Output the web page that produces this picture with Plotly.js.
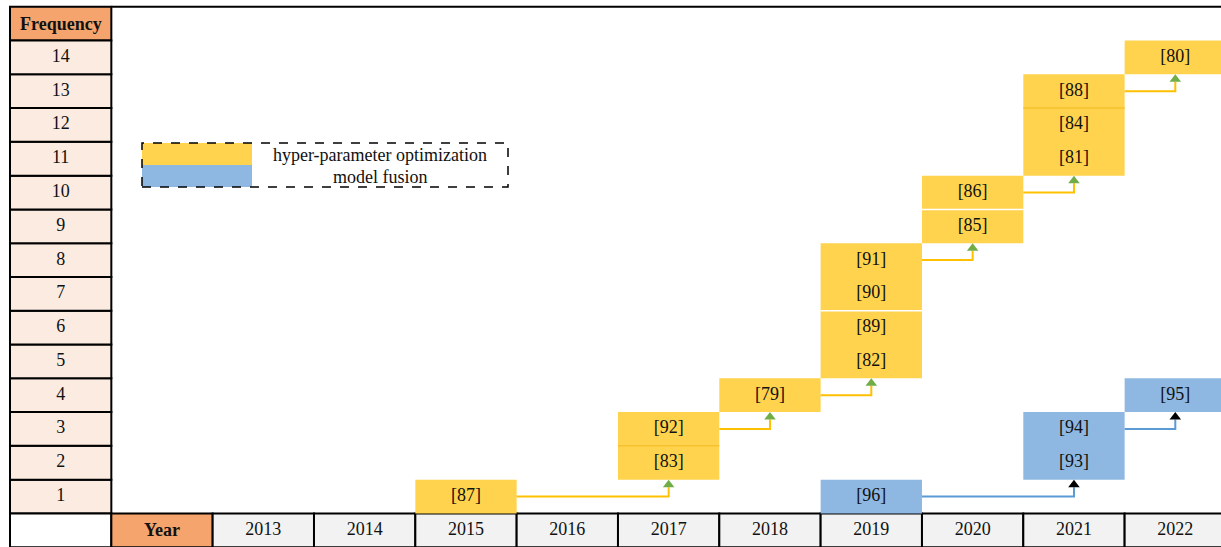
<!DOCTYPE html>
<html>
<head>
<meta charset="utf-8">
<script src="https://cdn.plot.ly/plotly-3.0.1.min.js"></script>
<style>html,body{margin:0;padding:0;background:#fff;}#chart{width:1221px;height:547px;}</style>
</head>
<body>
<div id="chart"></div>
<script>
// ---------- data ----------
const years = ['2013','2014','2015','2016','2017','2018','2019','2020','2021','2022'];
const frequencies = [1,2,3,4,5,6,7,8,9,10,11,12,13,14];

const hpoYear = ['2015','2017','2017','2018','2019','2019','2019','2019','2020','2020','2021','2021','2021','2022'];
const hpoFreq = [1,2,3,4,5,6,7,8,9,10,11,12,13,14];
const hpoRef  = ['[87]','[83]','[92]','[79]','[82]','[89]','[90]','[91]','[85]','[86]','[81]','[84]','[88]','[80]'];

const mfYear = ['2019','2021','2021','2022'];
const mfFreq = [1,2,3,4];
const mfRef  = ['[96]','[93]','[94]','[95]'];

const seriesNames = ['hyper-parameter optimization','model fusion'];

// ---------- style ----------
const YELLOW = '#FFD34E', YELLOW_LINE = '#FFC000', YELLOW_SEP = '#F9C12E', GREEN = '#70AD47';
const BLUE = '#8EB8E2', BLUE_LINE = '#5B9BD5';
const ORANGE = '#F4A46C', PEACH = '#FBEBE1', GREY = '#F2F2F2';
const FONT = '"Liberation Serif", "Times New Roman", serif';
const FS = 18;
// separator drawn on top edge of these cells (by reference label): colour
const hpoSeparators = {'[92]': YELLOW_SEP, '[90]': '#FFFFFF', '[86]': '#FFFFFF', '[88]': YELLOW_SEP};

const W = 1221, H = 547;
const xr = [-0.0987, 11.951], yr = [-0.494, 15.70];
const pxX = W / (xr[1] - xr[0]), pxY = H / (yr[1] - yr[0]);
const col = y => 2 + years.indexOf(y);

const shapes = [], traces = [];

// ---------- table frame ----------
shapes.push({type:'rect', xref:'x', yref:'y', x0:0, x1:1, y0:14.5, y1:15.5, fillcolor:ORANGE, line:{color:'#000', width:2}, layer:'below'});
frequencies.forEach(f => shapes.push({type:'rect', xref:'x', yref:'y', x0:0, x1:1, y0:f-0.5, y1:f+0.5, fillcolor:PEACH, line:{color:'#000', width:2}, layer:'below'}));
shapes.push({type:'rect', xref:'x', yref:'y', x0:0, x1:1, y0:-0.5, y1:0.5, fillcolor:'#fff', line:{color:'#000', width:2}, layer:'below'});
shapes.push({type:'rect', xref:'x', yref:'y', x0:1, x1:2, y0:-0.5, y1:0.5, fillcolor:ORANGE, line:{color:'#000', width:2}, layer:'below'});
years.forEach(y => shapes.push({type:'rect', xref:'x', yref:'y', x0:col(y), x1:col(y)+1, y0:-0.5, y1:0.5, fillcolor:GREY, line:{color:'#000', width:2}, layer:'below'}));
shapes.push({type:'line', xref:'x', yref:'y', x0:1, x1:12.5, y0:15.5, y1:15.5, line:{color:'#000', width:2}, layer:'below'});

// ---------- group cells by year ----------
function groupByYear(yrs, fr) {
  const groups = [];
  yrs.forEach((y, i) => {
    let g = groups.find(g => g.year === y);
    if (!g) { g = {year:y, min:fr[i], max:fr[i]}; groups.push(g); }
    g.min = Math.min(g.min, fr[i]); g.max = Math.max(g.max, fr[i]);
  });
  return groups;
}

// ---------- boxes ----------
function addBoxes(yrs, fr, refs, fill) {
  groupByYear(yrs, fr).forEach(g => {
    const c = col(g.year);
    shapes.push({type:'rect', xref:'x', yref:'y', x0:c, x1:c+1, y0:g.min-0.5, y1:g.max+0.5, fillcolor:fill, line:{width:0}, layer:'below'});
  });
  traces.push({type:'scatter', mode:'text', x:yrs.map(y => col(y)+0.5), y:fr, text:refs,
    textfont:{family:FONT, size:FS, color:'#111'}, hoverinfo:'skip', showlegend:false});
}
addBoxes(hpoYear, hpoFreq, hpoRef, YELLOW);
addBoxes(mfYear, mfFreq, mfRef, BLUE);
hpoRef.forEach((r, i) => {
  if (hpoSeparators[r]) {
    const c = col(hpoYear[i]);
    shapes.push({type:'line', xref:'x', yref:'y', x0:c, x1:c+1, y0:hpoFreq[i]-0.5, y1:hpoFreq[i]-0.5,
      line:{color:hpoSeparators[r], width: hpoSeparators[r]==='#FFFFFF'?1.5:1.5}, layer:'below'});
  }
});

// ---------- arrows between consecutive year groups ----------
function addArrows(yrs, fr, lineColor, headColor) {
  const groups = groupByYear(yrs, fr);
  const headSize = 10;
  const headX = [], headY = [];
  for (let k = 0; k < groups.length - 1; k++) {
    const a = groups[k], b = groups[k+1];
    const x0 = col(a.year) + 1, y0 = a.max;
    const x1 = col(b.year) + 0.5, yTip = b.min - 0.5;
    const yBase = yTip - (headSize*0.75)/pxY;
    traces.push({type:'scatter', mode:'lines', x:[x0, x1, x1], y:[y0, y0, yBase],
      line:{color:lineColor, width:2}, hoverinfo:'skip', showlegend:false});
    headX.push(x1); headY.push(yTip - (headSize/2)/pxY);
  }
  traces.push({type:'scatter', mode:'markers', x:headX, y:headY,
    marker:{symbol:'triangle-up', size:headSize, color:headColor, line:{width:0}}, hoverinfo:'skip', showlegend:false});
}
addArrows(hpoYear, hpoFreq, YELLOW_LINE, GREEN);
addArrows(mfYear, mfFreq, BLUE_LINE, '#000');

// ---------- axis-like labels ----------
traces.push({type:'scatter', mode:'text', x:frequencies.map(() => 0.5), y:frequencies, text:frequencies.map(String),
  textfont:{family:FONT, size:FS, color:'#111'}, hoverinfo:'skip', showlegend:false});
traces.push({type:'scatter', mode:'text', x:years.map(y => col(y)+0.5), y:years.map(() => 0), text:years,
  textfont:{family:FONT, size:FS, color:'#111'}, hoverinfo:'skip', showlegend:false});

const annotations = [
  {xref:'x', yref:'y', x:0.5, y:15, text:'<b>Frequency</b>', showarrow:false, xanchor:'center', yanchor:'middle', font:{family:FONT, size:FS, color:'#111'}},
  {xref:'x', yref:'y', x:1.5, y:0, text:'<b>Year</b>', showarrow:false, xanchor:'center', yanchor:'middle', font:{family:FONT, size:FS, color:'#111'}}
];

// ---------- legend box ----------
const px = v => v / W, py = v => 1 - v / H;
shapes.push({type:'rect', xref:'paper', yref:'paper', x0:px(142), x1:px(252), y0:py(165), y1:py(143), fillcolor:YELLOW, line:{width:0}});
shapes.push({type:'rect', xref:'paper', yref:'paper', x0:px(142), x1:px(252), y0:py(187), y1:py(165), fillcolor:BLUE, line:{width:0}});
shapes.push({type:'rect', xref:'paper', yref:'paper', x0:px(142), x1:px(508), y0:py(187), y1:py(143), fillcolor:'rgba(0,0,0,0)', line:{color:'#000', width:1.5, dash:'dash'}});
annotations.push({xref:'paper', yref:'paper', x:px(380), y:py(155), xanchor:'center', yanchor:'middle', text:seriesNames[0], showarrow:false, font:{family:FONT, size:FS, color:'#111'}});
annotations.push({xref:'paper', yref:'paper', x:px(380), y:py(177), xanchor:'center', yanchor:'middle', text:seriesNames[1], showarrow:false, font:{family:FONT, size:FS, color:'#111'}});

const layout = {
  width:W, height:H, margin:{l:0, r:0, t:0, b:0}, paper_bgcolor:'#fff', plot_bgcolor:'#fff',
  xaxis:{range:xr, visible:false, fixedrange:true},
  yaxis:{range:yr, visible:false, fixedrange:true},
  shapes:shapes, annotations:annotations, showlegend:false
};
Plotly.newPlot('chart', traces, layout, {displayModeBar:false, staticPlot:true});
</script>
</body>
</html>
